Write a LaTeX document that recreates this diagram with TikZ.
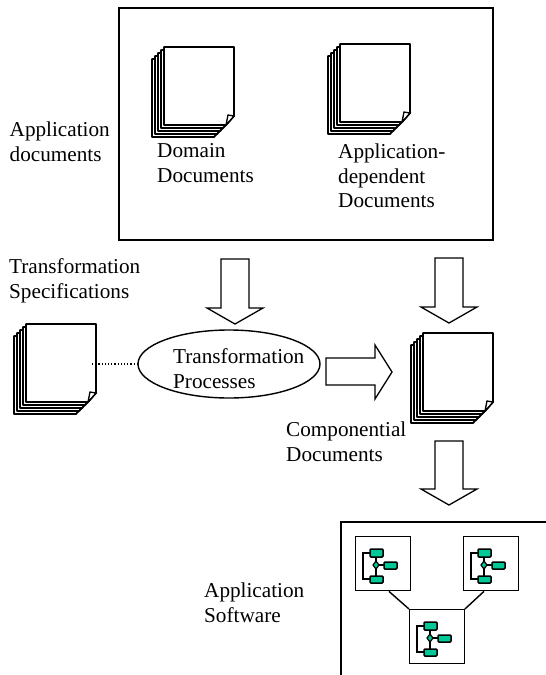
\documentclass[tikz,border=0pt]{standalone}
\usepackage{fontspec}
\setmainfont{Liberation Serif}
\usetikzlibrary{shapes.geometric,calc}
\definecolor{chipgreen}{RGB}{0,200,150}
\tikzset{
  x=1pt,y=-1pt,
  frame/.style={draw=black,line width=1.5pt,fill=white},
  page/.style={draw=black,line width=1.9pt,fill=white,line join=round},
  blockarrow/.style={draw=black,line width=1.3pt,fill=white,line join=miter},
  lab/.style={font=\fontsize{21.2}{24.7}\selectfont,align=left,anchor=north west,inner sep=0pt},
  chip/.style={draw=black,line width=1.5pt,fill=chipgreen,rounded corners=1pt},
  wire/.style={draw=black,line width=1.2pt},
}
% stack of pages: #1 name, #2 x of front page, #3 y of front page
\newcommand{\docstack}[3]{%
  \foreach \i in {4,3,2,1,0}{%
    \draw[page] ({#2-3*\i},{#3+3*\i}) -- ++(70,0) -- ++(0,69) -- ++(-8,9) -- ++(-62,0) -- cycle;
  }
  \draw[line width=1.3pt,fill=white] ({#2+62},{#3+78}) -- ({#2+64},{#3+68}) -- ({#2+70},{#3+69}) -- cycle;
  \coordinate (#1) at ({#2+66},{#3+40});
}
% component icon: #1 name, #2 x, #3 y of top-left of box
\newcommand{\compbox}[3]{%
  \node[draw=black,line width=1.4pt,fill=white,minimum width=54.5pt,minimum height=54pt,inner sep=0pt,anchor=north west] (#1) at (#2,#3) {};
  \draw[wire] ({#2+15},{#3+17}) -- ({#2+8},{#3+17}) -- ({#2+8},{#3+43}) -- ({#2+15},{#3+43});
  \draw[wire] ({#2+21},{#3+17}) -- ({#2+21},{#3+43});
  \draw[wire] ({#2+21},{#3+29}) -- ({#2+30},{#3+29});
  \draw[chip] ({#2+15},{#3+13}) rectangle ++(13,8);
  \draw[chip] ({#2+15},{#3+40}) rectangle ++(13,7);
  \draw[chip] ({#2+29},{#3+26}) rectangle ++(13,7);
  \draw[line width=1.2pt,fill=chipgreen] ({#2+21},{#3+25}) -- ++(3,4) -- ++(-3,4) -- ++(-3,-4) -- cycle;
}
\begin{document}
\begin{tikzpicture}
\useasboundingbox (0,0) rectangle (546,675);
\node[frame,minimum width=374pt,minimum height=232pt,inner sep=0pt,anchor=north west] (appbox) at (118,7) {};
\docstack{d1}{164}{47}
\docstack{d2}{340}{44}
\node[lab] (t1) at (9.5,121.5) {Application\\documents};
\node[lab] (t2) at (157,143.5) {Domain\\Documents};
\node[lab] (t3) at (338,143.5) {Application-\\dependent\\Documents};
\node[lab] (t4) at (9,258.5) {Transformation\\Specifications};
\docstack{d3}{26}{324}
\docstack{d4}{423}{333}
\node[draw=black,line width=1.4pt,fill=white,ellipse,minimum width=182pt,minimum height=68pt,inner sep=0pt] (proc) at (229,364) {};
\node[lab] (t5) at (173,348.5) {Transformation\\Processes};
\draw[line width=1.2pt,dotted] (d3) -- (proc.west);
\draw[blockarrow] (221,259) -- (249,259) -- (249,308) -- (263,308) -- (235,324) -- (207,308) -- (221,308) -- cycle;
\draw[blockarrow] (435,258) -- (463,258) -- (463,307) -- (477,307) -- (449,323) -- (421,307) -- (435,307) -- cycle;
\draw[blockarrow] (326,358) -- (375,358) -- (375,345) -- (392,372) -- (375,399) -- (375,385) -- (326,385) -- cycle;
\draw[blockarrow] (435,441) -- (463,441) -- (463,489) -- (477,489) -- (449,505) -- (421,489) -- (435,489) -- cycle;
\node[lab] (t6) at (286,421.5) {Componential\\Documents};
\node[lab] (t7) at (204,582.5) {Application\\Software};
\draw[line width=1.6pt] (546,522) -- (341,522) -- (341,675);
\compbox{c1}{355}{536}
\compbox{c2}{463}{536}
\compbox{c3}{409}{609}
\draw[line width=1.4pt] ($(c1.south)+(6,0)$) -- (c3.north west);
\draw[line width=1.4pt] ($(c2.south)+(-7,0)$) -- (c3.north east);
\end{tikzpicture}
\end{document}
